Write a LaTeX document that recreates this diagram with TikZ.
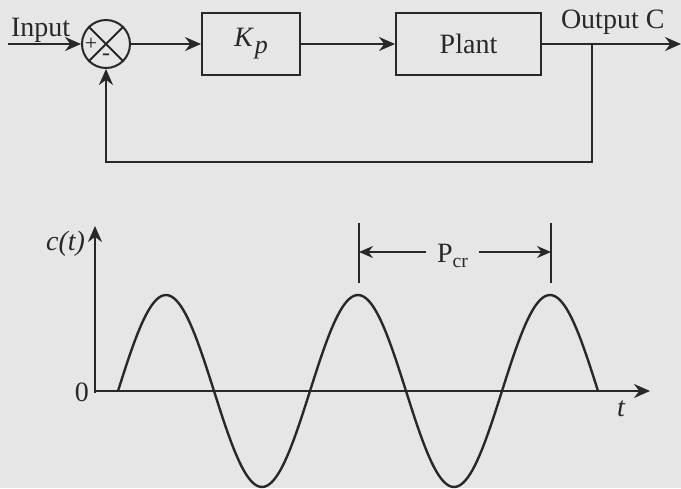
\documentclass[tikz,border=0pt]{standalone}
\usepackage{fontspec}
\setmainfont{Liberation Serif}
\usetikzlibrary{arrows.meta}
\definecolor{paper}{RGB}{230,230,230}
\definecolor{ink}{RGB}{40,40,40}
\begin{document}
\begin{tikzpicture}[x=0.5pt,y=-0.5pt,
  line width=1pt, draw=ink, text=ink,
  every node/.style={font=\fontsize{14}{16}\selectfont},
  blk/.style={draw=ink, line width=1pt, rectangle, inner sep=0pt},
  arr/.style={-{Stealth[length=8pt,width=7pt]}},
  darr/.style={-{Stealth[length=7pt,width=6pt]}},
  lbl/.style={inner sep=0pt}]
\fill[paper] (0,0) rectangle (681,488);
\useasboundingbox (0,0) rectangle (681,488);

% ---- block diagram ----
\coordinate (in) at (8,44);
\node[lbl, anchor=base west] (inlbl) at (10,36) {Input};
\node[circle, draw=ink, line width=1pt, minimum size=24pt, inner sep=0pt] (sum) at (106,44) {};
\draw (sum.45) -- (sum.225);
\draw (sum.135) -- (sum.315);
\node[lbl, font=\fontsize{11}{12}\selectfont] (plus) at (91,44) {+};
\node[lbl, font=\fontsize{12}{12}\selectfont] (minus) at (106,57) {-};
\node[blk, minimum width=49pt, minimum height=31pt] (kp) at (251,44) {\itshape K\kern1pt\raisebox{-3.5pt}{\fontsize{13}{13}\selectfont p}};
\node[blk, minimum width=72.5pt, minimum height=31pt] (plant) at (468.5,44) {Plant};
\coordinate (tap) at (592,44);
\coordinate (out) at (681,44);
\coordinate (fb) at (592,162);
\node[lbl, anchor=base west] (outlbl) at (560,28) {Output C};

\draw[arr] (in) -- (sum.west);
\draw[arr] (sum.east) -- (kp.west);
\draw[arr] (kp.east) -- (plant.west);
\draw[arr] (plant.east) -- (out);
\draw[arr] (tap) -- (fb) -| (sum.south);

% ---- plot ----
\coordinate (o) at (95,391);
\coordinate (ybot) at (95,393);
\coordinate (ytop) at (95,226);
\coordinate (xend) at (650,391);
\draw[arr] (ybot) -- (ytop);
\draw[arr] (o) -- (xend);
\node[lbl, anchor=east] (zero) at (90,392) {0};
\node[lbl, anchor=base] (tlbl) at (621,416) {\itshape t};
\node[lbl, anchor=base east] (clbl) at (86,250) {\itshape c(t)};

\draw[line width=1.2pt] plot[domain=0:2.5, samples=200] ({118+192*\x},{391-96*sin(360*\x)});

% P_cr
\coordinate (t1a) at (359,223);
\coordinate (t1b) at (359,283);
\coordinate (t2a) at (551,223);
\coordinate (t2b) at (551,283);
\draw (t1a) -- (t1b);
\draw (t2a) -- (t2b);
\node[lbl] (pcr) at (453,256) {P\textsubscript{cr}};
\coordinate (l1) at (359,252);
\coordinate (l2) at (551,252);
\coordinate (pl) at (426,252);
\coordinate (pr) at (479,252);
\draw[darr] (pl) -- (l1);
\draw[darr] (pr) -- (l2);
\end{tikzpicture}
\end{document}
